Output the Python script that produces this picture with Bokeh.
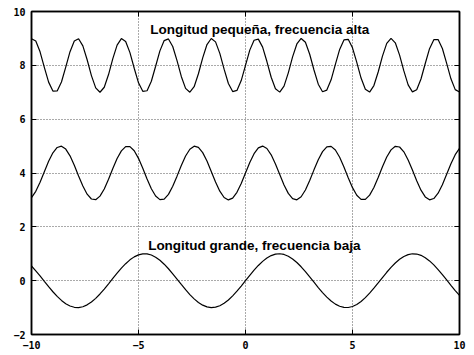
from bokeh.plotting import figure
from bokeh.models import LinearAxis, FixedTicker, Range1d, Label
from bokeh.embed import file_html
from bokeh.resources import INLINE

x = [-10.0, -9.8, -9.6, -9.4, -9.2, -9.0, -8.8, -8.6, -8.4, -8.2,
     -8.0, -7.8, -7.6, -7.4, -7.2, -7.0, -6.8, -6.6, -6.4, -6.2,
     -6.0, -5.8, -5.6, -5.4, -5.2, -5.0, -4.8, -4.6, -4.4, -4.2,
     -4.0, -3.8, -3.6, -3.4, -3.2, -3.0, -2.8, -2.6, -2.4, -2.2,
     -2.0, -1.8, -1.6, -1.4, -1.2, -1.0, -0.8, -0.6, -0.4, -0.2,
     0.0,
     0.2, 0.4, 0.6, 0.8, 1.0, 1.2, 1.4, 1.6, 1.8, 2.0,
     2.2, 2.4, 2.6, 2.8, 3.0, 3.2, 3.4, 3.6, 3.8, 4.0,
     4.2, 4.4, 4.6, 4.8, 5.0, 5.2, 5.4, 5.6, 5.8, 6.0,
     6.2, 6.4, 6.6, 6.8, 7.0, 7.2, 7.4, 7.6, 7.8, 8.0,
     8.2, 8.4, 8.6, 8.8, 9.0, 9.2, 9.4, 9.6, 9.8, 10.0]

y_baja = [0.544, 0.367, 0.174, -0.025, -0.223, -0.412, -0.585, -0.734, -0.855, -0.941,
          -0.989, -0.999, -0.968, -0.899, -0.794, -0.657, -0.494, -0.312, -0.117, 0.083,
          0.279, 0.465, 0.631, 0.773, 0.884, 0.959, 0.996, 0.994, 0.952, 0.872,
          0.757, 0.612, 0.443, 0.256, 0.058, -0.141, -0.335, -0.516, -0.676, -0.808,
          -0.909, -0.974, -1.000, -0.985, -0.932, -0.841, -0.717, -0.565, -0.389, -0.199,
          0.000,
          0.199, 0.389, 0.565, 0.717, 0.841, 0.932, 0.985, 1.000, 0.974, 0.909,
          0.808, 0.676, 0.516, 0.335, 0.141, -0.058, -0.256, -0.443, -0.612, -0.757,
          -0.872, -0.952, -0.994, -0.996, -0.959, -0.884, -0.773, -0.631, -0.465, -0.279,
          -0.083, 0.117, 0.312, 0.494, 0.657, 0.794, 0.899, 0.968, 0.999, 0.989,
          0.941, 0.855, 0.734, 0.585, 0.412, 0.223, 0.025, -0.174, -0.367, -0.544]

y_media = [3.087, 3.318, 3.657, 4.050, 4.435, 4.751, 4.949, 4.997, 4.888, 4.638,
           4.288, 3.892, 3.514, 3.212, 3.034, 3.009, 3.141, 3.408, 3.768, 4.166,
           4.537, 4.823, 4.979, 4.981, 4.828, 4.544, 4.174, 3.777, 3.415, 3.145,
           3.011, 3.032, 3.206, 3.506, 3.883, 4.279, 4.631, 4.884, 4.996, 4.952,
           4.757, 4.443, 4.058, 3.665, 3.324, 3.091, 3.000, 3.068, 3.283, 3.611,
           4.000,
           4.389, 4.717, 4.932, 5.000, 4.909, 4.676, 4.335, 3.942, 3.557, 3.243,
           3.048, 3.004, 3.116, 3.369, 3.721, 4.117, 4.494, 4.794, 4.968, 4.989,
           4.855, 4.585, 4.223, 3.826, 3.456, 3.172, 3.019, 3.021, 3.177, 3.463,
           3.834, 4.232, 4.592, 4.859, 4.991, 4.966, 4.788, 4.486, 4.108, 3.712,
           3.362, 3.112, 3.003, 3.051, 3.249, 3.565, 3.950, 4.343, 4.682, 4.913]

y_alta = [8.988, 8.903, 8.502, 7.926, 7.376, 7.044, 7.046, 7.381, 7.933, 8.508,
          8.906, 8.987, 8.724, 8.207, 7.619, 7.163, 7.000, 7.186, 7.657, 8.247,
          8.751, 8.993, 8.888, 8.472, 7.892, 7.350, 7.034, 7.056, 7.408, 7.966,
          8.537, 8.919, 8.981, 8.700, 8.174, 7.588, 7.145, 7.001, 7.206, 7.688,
          8.279, 8.773, 8.996, 8.872, 8.443, 7.859, 7.324, 7.026, 7.068, 7.435,
          8.000,
          8.565, 8.932, 8.974, 8.676, 8.141, 7.557, 7.128, 7.004, 7.227, 7.721,
          8.312, 8.794, 8.999, 8.855, 8.412, 7.826, 7.300, 7.019, 7.081, 7.463,
          8.034, 8.592, 8.944, 8.966, 8.650, 8.108, 7.528, 7.112, 7.007, 7.249,
          7.753, 8.343, 8.814, 9.000, 8.837, 8.381, 7.793, 7.276, 7.013, 7.094,
          7.492, 8.067, 8.619, 8.954, 8.956, 8.624, 8.074, 7.498, 7.097, 7.012]

x_ticks = [-10, -5, 0, 5, 10]
y_ticks = [-2, 0, 2, 4, 6, 8, 10]

label_texts = ["Longitud pequeña, frecuencia alta", "Longitud grande, frecuencia baja"]
label_x = [-4.45, -4.55]
label_y = [9.33, 1.30]

p = figure(width=474, height=355, x_range=Range1d(-10, 10), y_range=Range1d(-2, 10),
           output_backend="svg", toolbar_location=None,
           min_border_left=31, min_border_right=15, min_border_top=11, min_border_bottom=21)
p.background_fill_color = "white"
p.border_fill_color = "white"
p.outline_line_color = "black"
p.outline_line_width = 1.5

p.xaxis.ticker = FixedTicker(ticks=x_ticks)
p.yaxis.ticker = FixedTicker(ticks=y_ticks)
p.xgrid.ticker = FixedTicker(ticks=x_ticks)
p.ygrid.ticker = FixedTicker(ticks=y_ticks)

for ax in (p.xaxis[0], p.yaxis[0]):
    ax.major_tick_in = 5
    ax.major_tick_out = 0
    ax.minor_tick_line_color = None
    ax.axis_line_color = "black"
    ax.axis_line_width = 1.5
    ax.major_tick_line_color = "black"
    ax.major_tick_line_width = 1
    ax.major_label_text_font = "DejaVu Sans Mono"
    ax.major_label_text_font_style = "bold"
    ax.major_label_text_color = "black"
    ax.major_label_text_font_size = "10px"
    ax.major_label_standoff = 6

# mirror ticks (top and right) drawn as minor ticks so no labels are produced
for ticks, side in ((x_ticks, "above"), (y_ticks, "right")):
    mirror = LinearAxis(ticker=FixedTicker(ticks=[], minor_ticks=ticks))
    mirror.major_tick_line_color = None
    mirror.minor_tick_in = 5
    mirror.minor_tick_out = 0
    mirror.minor_tick_line_color = "black"
    mirror.minor_tick_line_width = 1
    mirror.axis_line_color = "black"
    mirror.axis_line_width = 1.5
    p.add_layout(mirror, side)

p.grid.grid_line_color = "#555555"
p.grid.grid_line_dash = "1 2"
p.grid.grid_line_width = 1

for ys in (y_baja, y_media, y_alta):
    p.line(x, ys, line_color="black", line_width=1.2)

for t, lx, ly in zip(label_texts, label_x, label_y):
    p.add_layout(Label(x=lx, y=ly, text=t, text_font="Liberation Sans",
                       text_font_style="bold", text_font_size="13.5px",
                       text_color="black", text_baseline="alphabetic", text_align="left"))

open("out.html", "w").write(file_html(p, INLINE))
